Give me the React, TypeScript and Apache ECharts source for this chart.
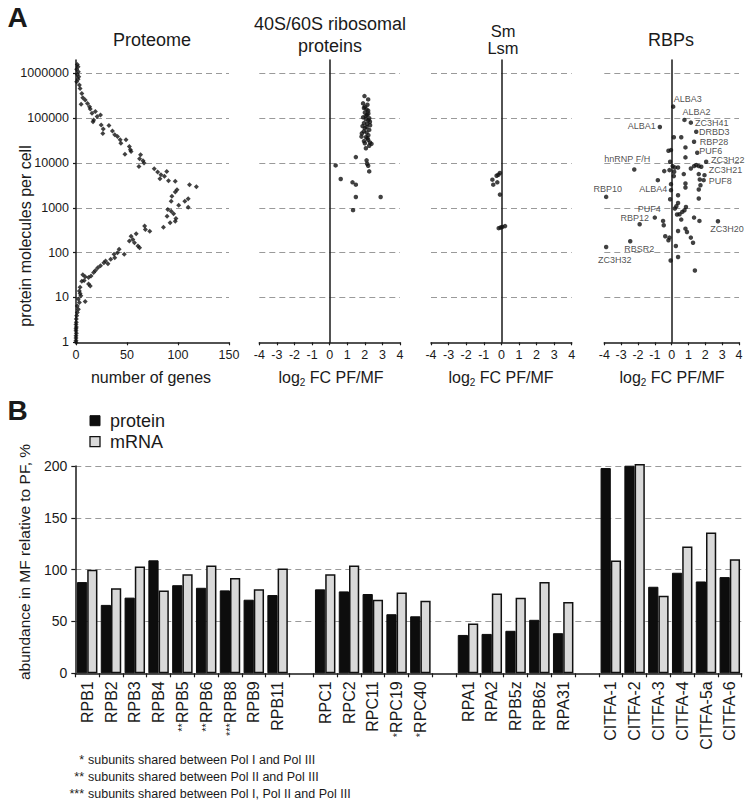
import React, { useEffect, useRef } from 'react';
import * as echarts from 'echarts';

// ---------- Panel A: proteome histogram (molecules per cell vs number of genes)
const proteomeMolecules = [
  1585000, 1410000, 1250000, 1090000, 950000, 843000, 748000, 653000, 551000, 464000,
  359000, 288000, 255000, 215000, 205000, 181000, 161000, 141000, 129000, 119000,
  109000, 92000, 84000, 71000, 69000, 58000, 52000, 46000, 43000, 39000,
  33000, 33000, 27800, 23400, 19800, 18200, 15800, 15300, 12500, 11300,
  10000, 8430, 7480, 6530, 6310, 5510, 5060, 4490, 4050, 3920,
  3300, 2980, 2550, 2270, 1815, 1610, 1406, 1406, 1146, 1035,
  918, 843, 736, 653, 580, 506, 464, 392, 372, 330,
  303, 264, 234, 198, 182, 167, 141, 129, 119, 100,
  92, 92, 77, 71, 65, 60, 57, 51, 46, 40,
  36, 32, 30, 29, 28, 24, 23, 20, 18, 17,
  14, 12.3, 10.9, 9.2, 8.1, 7.7, 6.5, 5.5, 4.6, 3.9,
  3.3, 2.8, 2.5, 2.2, 2, 1.8, 1.6, 1.4, 1.25, 1.1, 1,
];
const proteomeGenes = [
  1.3, 2, 0.7, 2.3, 1.3, 2.7, 2, 0.7, 3.3, 4,
  5.7, 6.7, 9, 11.3, 5, 13.3, 14, 19, 15.7, 24,
  20.7, 17.3, 16.7, 24.7, 32.3, 26.7, 35.7, 26.3, 38, 40.7,
  43.3, 49, 44, 52.3, 53.3, 54, 48, 63.3, 62.3, 65.7,
  66.7, 61.7, 76.7, 89, 80, 83.3, 86.7, 82.3, 90.7, 97.3,
  111.3, 118, 99, 97.3, 94, 110, 93.3, 106.7, 100.7, 110,
  90, 93.3, 95.7, 89.3, 98, 97.3, 92.3, 67.3, 85.7, 68,
  72.3, 59, 54, 55.7, 52.3, 57.3, 60.7, 62.3, 42.3, 40.7,
  37.3, 47.3, 38, 34, 29, 27.3, 31.3, 24, 21.3, 19,
  17.3, 6.7, 14.7, 9, 12.3, 8, 5.7, 12.3, 14, 4,
  3.3, 4, 4.7, 2.3, 9, 3.3, 1.3, 2.3, 1.3, 0.7,
  0.3, 0.3, 0, 0.3, 0, 0, 0.3, 0, 0, 0, 0,
];

// ---------- 40S/60S ribosomal proteins
const ribosomalFC = [
  1.98, 2.19, 1.9, 2.0, 2.1, 2.19, 2.0, 2.13, 1.9, 2.25,
  2.06, 2.29, 2.13, 1.87, 2.0, 2.25, 1.94, 2.1, 1.83, 1.81,
  2.06, 2.19, 2.29, 2.0, 2.38, 2.25, 2.06, 1.49, 2.1, 0.34,
  2.13, 2.19, 2.25, 0.63, 1.3, 1.49, 1.49, 2.9, 1.33,
  2.15, 1.95, 2.2, 2.05, 2.2, 1.95, 2.3, 2.1, 2.2, 1.95, 2.15,
];
const ribosomalMolecules = [
  313000, 264000, 215000, 181000, 158000, 148000, 134000, 119000, 105000, 100000,
  95000, 84000, 75000, 67000, 60000, 55000, 51000, 48000, 46000, 39000,
  38000, 33000, 28800, 27800, 26900, 24300, 21500, 13600, 11500, 8880,
  9660, 8730, 6530, 4400, 3720, 3300, 1750, 1750, 890,
  200000, 170000, 128000, 112000, 90000, 78000, 70000, 64000, 42000, 31000, 36000,
];

// ---------- Sm / Lsm
const smFC = [-0.08, -0.17, -0.27, -0.51, -0.23, -0.46, -0.08, -0.15, -0.04, 0.21, 0.05];
const smMolecules = [6000, 5500, 5230, 4270, 3720, 3300, 1980, 353, 366, 392, 375];

// ---------- RBPs
const rbpNames = [
  'ALBA3', 'ALBA2', 'ZC3H41', 'ALBA1', 'DRBD3', 'RBP28', 'PUF6', 'ZC3H22', 'hnRNP F/H',
  'ZC3H21', 'PUF8', 'ALBA4', 'RBP10', 'PUF4', 'RBP12', 'ZC3H20', 'RBSR2', 'ZC3H32',
];
const rbpNamedFC = [0.09, 0.76, 1.14, -0.7, 1.46, 1.33, 1.52, 2.05, -2.22, 1.95, 1.9, -0.82, -3.89, 0.19, -1.0, 2.75, -2.46, -3.89];
const rbpNamedMolecules = [182000, 92000, 80000, 64000, 50000, 30000, 17000, 10700, 7200, 5380, 4160, 4160, 1760, 966, 608, 502, 180, 134];
const rbpOtherFC = [
  0.13, 0.57, 0.82, -0.19, -0.04, 0.82, -0.09, 0.06, 0.19, 0.38,
  -0.13, -0.44, 0.15, 0.13, 0.72, 1.14, 1.33, 1.46, 1.61, 1.76,
  1.61, 1.67, 1.71, 1.61, 1.61, 0.82, 0.82, -0.04, -0.04, 0.38,
  -0.09, 0.38, 0.28, 0.85, 0.76, 0.63, 0.47, 0.32, 1.33, 1.65,
  0.57, -0.51, -0.47, 0.82, 0.91, 0.38, -0.38, -0.13, -0.19, 1.14,
  1.27, 0.25, 0.38, -0.06, 1.38, -1.9,
];
const rbpOtherMolecules = [
  37600, 37600, 22400, 18900, 19500, 13400, 10700, 8570, 8000, 8000,
  6970, 6620, 6390, 5120, 5680, 7600, 8570, 9020, 8570, 8280,
  5680, 4300, 3210, 2570, 1620, 3510, 2850, 3390, 2490, 1920,
  1560, 1290, 1090, 1050, 887, 813, 721, 710, 608, 512,
  548, 512, 409, 344, 290, 306, 232, 217, 189, 217,
  167, 141, 80, 67, 40, 431,
];

// label placement (style): centre of label relative to the dot, px
const rbpLabelOffset: Record<string, [number, number]> = {
  'ALBA3': [14.5, -8], 'ALBA2': [12, -8], 'ZC3H41': [21, 0], 'ALBA1': [-18, -1],
  'DRBD3': [18, 0], 'RBP28': [20, 0], 'PUF6': [13.5, -2], 'ZC3H22': [21.5, -2],
  'hnRNP F/H': [-7, -10], 'ZC3H21': [21, -5], 'PUF8': [16.5, 1], 'ALBA4': [-4.5, 9],
  'RBP10': [1.5, -7.5], 'PUF4': [-25.5, 0], 'RBP12': [-20, 0], 'ZC3H20': [9, 8],
  'RBSR2': [9, 7.5], 'ZC3H32': [8.5, 12.5],
};

// ---------- Panel B
const polCategories = [
  'RPB1', 'RPB2', 'RPB3', 'RPB4', '**RPB5', '**RPB6', '***RPB8', 'RPB9', 'RPB11', ' ',
  'RPC1', 'RPC2', 'RPC11', '*RPC19', '*RPC40', '  ',
  'RPA1', 'RPA2', 'RPB5z', 'RPB6z', 'RPA31', '   ',
  'CITFA-1', 'CITFA-2', 'CITFA-3', 'CITFA-4', 'CITFA-5a', 'CITFA-6',
];
const proteinPct = [88, 66, 73, 109, 85, 82.5, 80, 71, 75.5, null, 81, 79, 76.5, 57, 55, null, 37, 38, 41, 51.6, 38.7, null, 198, 200.3, 83.5, 97, 88.6, 92.8];
const mrnaPct = [100, 82, 103, 80, 95.5, 104, 92, 81, 101, null, 95.5, 104, 71, 78, 70, null, 48, 77, 73, 88, 68.7, null, 108.8, 202, 74.8, 122.3, 135.8, 110];
const pctTicks = { min: 0, max: 200, interval: 50 };

const footnotes = [
  ['*', 'subunits shared between Pol I and Pol III'],
  ['**', 'subunits shared between Pol II and Pol III'],
  ['***', 'subunits shared between Pol I, Pol II and Pol III'],
];

const FONT = '"Liberation Sans", Arial, Helvetica, sans-serif';
const AX = '#1a1a1a';
const TXT = '#1a1a1a';
const GRID = '#9a9a9a';
const LOG_MAX = Math.log10(2000000);

const TOP = 60;
const HEIGHT = 282.3;
const DOT = 4.5;

function logY(gridIndex: number, showLabels: boolean) {
  return {
    type: 'value', gridIndex, min: 0, max: LOG_MAX, interval: 1,
    axisLine: { show: true, onZero: true, lineStyle: { color: AX, width: 1.5 } },
    axisTick: { show: showLabels, length: 3, lineStyle: { color: AX, width: 1.2 } },
    axisLabel: {
      show: showLabels, showMaxLabel: false, margin: 7, fontSize: 12.5, color: TXT, fontFamily: FONT,
      formatter: (v: number) => String(Math.round(Math.pow(10, v))),
    },
    splitLine: { show: true, showMinLine: false, showMaxLine: false, lineStyle: { color: GRID, type: [6, 4], width: 1 } },
  };
}
function fcX(gridIndex: number) {
  return {
    type: 'value', gridIndex, min: -4, max: 4, interval: 1,
    axisLine: { show: true, onZero: true, lineStyle: { color: AX, width: 1.5 } },
    axisTick: { show: true, length: 3, lineStyle: { color: AX, width: 1.2 } },
    axisLabel: { margin: 6, fontSize: 12.5, color: TXT, fontFamily: FONT },
    splitLine: { show: false },
  };
}

function pts(xs: number[], ms: number[]) {
  return xs.map((x, i) => [x, Math.log10(ms[i])]);
}

function txt(text: string, x: number, y: number, size: number, extra: any = {}) {
  return {
    type: 'text', x, y, silent: true,
    style: { text, fill: TXT, fontSize: size, fontFamily: FONT, align: 'center', verticalAlign: 'middle', ...extra },
  };
}
function logLabel(x: number) {
  return {
    type: 'text', x, y: 377, silent: true,
    style: {
      text: '{n|log}{s|2}{n| FC PF/MF}', fill: TXT, fontFamily: FONT, align: 'center', verticalAlign: 'middle',
      rich: {
        n: { fontSize: 16, lineHeight: 20, fontFamily: FONT, fill: TXT },
        s: { fontSize: 10, lineHeight: 10, verticalAlign: 'bottom', fontFamily: FONT, fill: TXT },
      },
    },
  };
}

export default function App() {
  const ref = useRef<HTMLDivElement>(null);
  useEffect(() => {
    const chart = echarts.init(ref.current!, null, { renderer: 'svg' });
    const rbpData = [
      ...rbpNamedFC.map((x, i) => {
        const name = rbpNames[i];
        const [dx, dy] = rbpLabelOffset[name];
        return {
          name, value: [x, Math.log10(rbpNamedMolecules[i])],
          label: {
            show: true, position: [DOT / 2 + dx, DOT / 2 + dy], align: 'center', verticalAlign: 'middle',
            formatter: name, fontSize: 9, lineHeight: 9, color: '#222', fontFamily: FONT, textBorderWidth: 0,
          },
        };
      }),
      ...pts(rbpOtherFC, rbpOtherMolecules).map((v) => ({ value: v })),
    ];

    const option: any = {
      animation: false,
      textStyle: { fontFamily: FONT },
      grid: [
        { left: 76, top: TOP, width: 153, height: HEIGHT },
        { left: 259.3, top: TOP, width: 140.7, height: HEIGHT },
        { left: 431, top: TOP, width: 140.7, height: HEIGHT },
        { left: 604.3, top: TOP, width: 134.7, height: HEIGHT },
        { left: 75.3, top: 466, width: 666.4, height: 207.3 },
      ],
      xAxis: [
        {
          type: 'value', gridIndex: 0, min: 0, max: 150, interval: 50,
          axisLine: { show: true, onZero: true, lineStyle: { color: AX, width: 1.5 } },
          axisTick: { show: true, length: 3, lineStyle: { color: AX, width: 1.2 } },
          axisLabel: { margin: 6, fontSize: 12.5, color: TXT, fontFamily: FONT },
          splitLine: { show: false },
        },
        fcX(1), fcX(2), fcX(3),
        {
          type: 'category', gridIndex: 4, data: polCategories, boundaryGap: true,
          axisLine: { show: true, lineStyle: { color: AX, width: 1.5 } },
          axisTick: { show: true, length: 4, interval: 0, lineStyle: { color: AX, width: 1.2 } },
          axisLabel: {
            interval: 0, rotate: 90, margin: 8, color: TXT, fontFamily: FONT, fontSize: 16,
            formatter: (v: string) => {
              const m = v.match(/^(\*+)(.+)$/);
              return m ? `{s|${m[1]}}{n|${m[2]}}` : `{n|${v}}`;
            },
            rich: {
              n: { fontSize: 16, fontFamily: FONT, color: TXT },
              s: { fontSize: 11, fontFamily: FONT, color: TXT },
            },
          },
        },
      ],
      yAxis: [
        logY(0, true), logY(1, false), logY(2, false), logY(3, false),
        {
          type: 'value', gridIndex: 4, ...pctTicks,
          axisLine: { show: true, lineStyle: { color: AX, width: 1.5 } },
          axisTick: { show: true, length: 4, lineStyle: { color: AX, width: 1.2 } },
          axisLabel: { margin: 8, fontSize: 14, color: TXT, fontFamily: FONT },
          splitLine: { show: true, showMinLine: false, lineStyle: { color: GRID, type: [6, 4], width: 1 } },
        },
      ],
      series: [
        {
          type: 'scatter', xAxisIndex: 0, yAxisIndex: 0, symbol: 'diamond', symbolSize: 5,
          itemStyle: { color: '#111' }, data: pts(proteomeGenes, proteomeMolecules), clip: false,
        },
        {
          type: 'scatter', xAxisIndex: 1, yAxisIndex: 1, symbolSize: DOT,
          itemStyle: { color: '#111' }, data: pts(ribosomalFC, ribosomalMolecules),
        },
        {
          type: 'scatter', xAxisIndex: 2, yAxisIndex: 2, symbolSize: DOT,
          itemStyle: { color: '#111' }, data: pts(smFC, smMolecules),
        },
        {
          type: 'scatter', xAxisIndex: 3, yAxisIndex: 3, symbolSize: DOT,
          itemStyle: { color: '#111' }, data: rbpData, labelLayout: { hideOverlap: false },
          emphasis: { disabled: true },
        },
        {
          type: 'bar', name: 'protein', xAxisIndex: 4, yAxisIndex: 4, data: proteinPct,
          barGap: '0%', barCategoryGap: '14%', clip: false,
          itemStyle: { color: '#0d0d0d', borderColor: '#0d0d0d', borderWidth: 1 },
        },
        {
          type: 'bar', name: 'mRNA', xAxisIndex: 4, yAxisIndex: 4, data: mrnaPct,
          barGap: '0%', barCategoryGap: '14%', clip: false,
          itemStyle: { color: '#d9d9d9', borderColor: '#111', borderWidth: 1.5 },
        },
      ],
      graphic: [
        txt('A', 17.5, 17.5, 28, { fontWeight: 'bold' }),
        txt('B', 17.5, 410, 28, { fontWeight: 'bold' }),
        txt('Proteome', 152, 40, 18),
        txt('40S/60S ribosomal', 330, 24, 18),
        txt('proteins', 330, 46, 18),
        txt('Sm', 503, 30.5, 16.5),
        txt('Lsm', 503, 48, 16.5),
        txt('RBPs', 671, 40, 18),
        txt('number of genes', 151, 377, 16),
        logLabel(331), logLabel(501), logLabel(672),
        { ...txt('protein molecules per cell', 25, 236, 16), rotation: Math.PI / 2 },
        { ...txt('abundance in MF relative to PF, %', 24, 562, 15.5), rotation: Math.PI / 2 },
        {
          type: 'rect', shape: { x: 90, y: 415.7, width: 10, height: 10 }, silent: true,
          style: { fill: '#0d0d0d', stroke: '#0d0d0d', lineWidth: 1 },
        },
        {
          type: 'rect', shape: { x: 90, y: 436.7, width: 10, height: 10 }, silent: true,
          style: { fill: '#d9d9d9', stroke: '#111', lineWidth: 1.3 },
        },
        txt('protein', 110, 420.7, 18, { align: 'left' }),
        txt('mRNA', 110, 441.7, 18, { align: 'left' }),
        ...footnotes.flatMap(([star, note], i) => [
          txt(star, 84, 760 + i * 17, 12.5, { align: 'right' }),
          txt(note, 88, 760 + i * 17, 12.5, { align: 'left' }),
        ]),
      ],
    };
    chart.setOption(option);
    return () => chart.dispose();
  }, []);
  return <div ref={ref} style={{ position: 'absolute', left: 0, top: 0, width: 754, height: 808 }} />;
}
